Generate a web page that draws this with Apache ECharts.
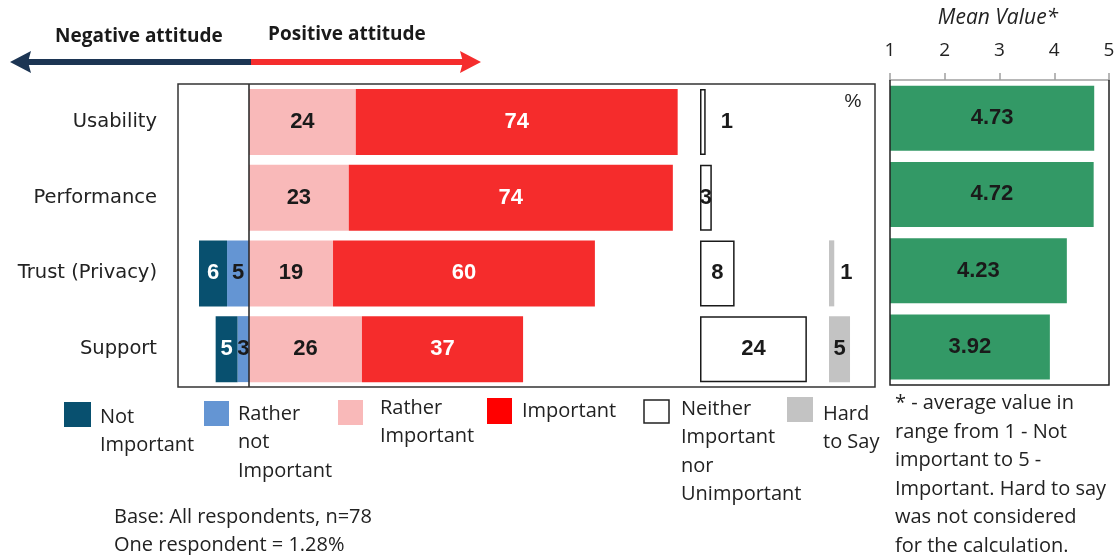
<!DOCTYPE html>
<html><head><meta charset="utf-8">
<script src="https://cdn.jsdelivr.net/npm/echarts@6/dist/echarts.min.js"></script>
<style>html,body{margin:0;padding:0;background:#fff}#c{width:1119px;height:555px}</style>
</head><body><div id="c"></div>
<script>
// ---- data ----
const categories = ['Usability', 'Performance', 'Trust (Privacy)', 'Support'];
const notImportant = [0, 0, 6.4, 5.0];
const ratherNotImportant = [0, 0, 5.0, 2.6];
const ratherImportant = [24.4, 22.8, 19.2, 25.8];
const important = [73.5, 74.0, 59.8, 36.8];
const neither = [1.3, 2.7, 7.9, 24.4];
const hardToSay = [0, 0, 1.2, 4.8];
const meanValues = [4.73, 4.72, 4.23, 3.92];
const meanTicks = [1, 2, 3, 4, 5];

// ---- styles ----
const C = {
  notImp: '#08506f', ratherNot: '#6495d3', ratherImp: '#f9b9b9', imp: '#f52c2c',
  hard: '#c3c3c3', green: '#339966', navy: '#1c3553', red: '#f52d2d'
};
const labelFont = "'Liberation Sans', Arial, sans-serif";
const textFont = "'Open Sans', 'Noto Sans', sans-serif";
const catFont = "'DejaVu Sans', Verdana, sans-serif";
const neitherLabelPos = ['right', 'inside', 'inside', 'inside'];
const neitherLabelDist = [15, 0, 0, 0];
const hardLabelPos = ['inside', 'inside', 'right', 'inside'];
const hardLabelDist = [0, 0, 6, 0];

const rnd = v => { const r = Math.round(Math.abs(v)); return r === 0 ? '' : String(r); };
const barLabel = (color) => ({ show: true, position: 'inside', color: color, fontFamily: labelFont,
  fontWeight: 'bold', fontSize: 22, formatter: p => rnd(p.value) });

const BW = 66;
const chart = echarts.init(document.getElementById('c'));
const option = {
  animation: false,
  grid: [
    { left: 178, top: 84, width: 522, height: 303 },
    { left: 700, top: 84, width: 129, height: 303 },
    { left: 829, top: 84, width: 46, height: 303 },
    { left: 890, top: 80, width: 219, height: 305 }
  ],
  xAxis: [
    { gridIndex: 0, type: 'value', min: -16.2, max: 103, show: false },
    { gridIndex: 1, type: 'value', min: 0, max: 29.45, show: false },
    { gridIndex: 2, type: 'value', min: 0, max: 10.5, show: false },
    { gridIndex: 3, type: 'value', min: 1, max: 5, interval: 1, startValue: 1, position: 'top',
      axisLine: { show: true, lineStyle: { color: '#a0a0a0', width: 1.5 } },
      axisTick: { show: true, inside: false, length: 7, lineStyle: { color: '#a0a0a0', width: 1.5 } },
      axisLabel: { margin: 20, fontFamily: textFont, fontSize: 19, color: '#222',
        formatter: v => meanTicks.indexOf(v) >= 0 ? String(v) : '' },
      splitLine: { show: false } }
  ],
  yAxis: [
    { gridIndex: 0, type: 'category', data: categories, inverse: true,
      axisLine: { show: false }, axisTick: { show: false },
      axisLabel: { margin: 21, fontFamily: catFont, fontSize: 19.5, color: '#222' } },
    { gridIndex: 1, type: 'category', data: categories, inverse: true, show: false },
    { gridIndex: 2, type: 'category', data: categories, inverse: true, show: false },
    { gridIndex: 3, type: 'category', data: categories, inverse: true, show: false }
  ],
  series: [
    { name: 'Rather not Important', type: 'bar', stack: 'a', xAxisIndex: 0, yAxisIndex: 0, barWidth: BW,
      data: ratherNotImportant.map(v => -v), itemStyle: { color: C.ratherNot }, label: barLabel('#1a1a1a') },
    { name: 'Not Important', type: 'bar', stack: 'a', xAxisIndex: 0, yAxisIndex: 0, barWidth: BW,
      data: notImportant.map(v => -v), itemStyle: { color: C.notImp }, label: barLabel('#ffffff') },
    { name: 'Rather Important', type: 'bar', stack: 'a', xAxisIndex: 0, yAxisIndex: 0, barWidth: BW,
      data: ratherImportant, itemStyle: { color: C.ratherImp }, label: barLabel('#1a1a1a'),
      markLine: { silent: true, symbol: 'none', label: { show: false },
        lineStyle: { color: '#222', width: 1.5, type: 'solid' }, data: [{ xAxis: 0 }] } },
    { name: 'Important', type: 'bar', stack: 'a', xAxisIndex: 0, yAxisIndex: 0, barWidth: BW,
      data: important, itemStyle: { color: C.imp }, label: barLabel('#ffffff') },
    { name: 'Neither Important nor Unimportant', type: 'bar', xAxisIndex: 1, yAxisIndex: 1, barWidth: BW,
      data: neither.map((v, i) => ({ value: v, label: { position: neitherLabelPos[i], distance: neitherLabelDist[i] } })),
      itemStyle: { color: '#fff', borderColor: '#1a1a1a', borderWidth: 1.5 }, label: barLabel('#1a1a1a') },
    { name: 'Hard to Say', type: 'bar', xAxisIndex: 2, yAxisIndex: 2, barWidth: BW,
      data: hardToSay.map((v, i) => ({ value: v, label: { position: hardLabelPos[i], distance: hardLabelDist[i] } })),
      itemStyle: { color: C.hard }, label: barLabel('#1a1a1a') },
    { name: 'Mean Value', type: 'bar', xAxisIndex: 3, yAxisIndex: 3, barWidth: 65,
      data: meanValues, itemStyle: { color: C.green },
      label: { show: true, position: 'inside', color: '#1a1a1a', fontFamily: labelFont, fontWeight: 'bold', fontSize: 22,
        formatter: p => p.value.toFixed(2) } }
  ],
  graphic: [
    { type: 'rect', shape: { x: 178, y: 84, width: 697, height: 303 }, silent: true, z: 10,
      style: { fill: 'none', stroke: '#333', lineWidth: 1.5 } },
    { type: 'polyline', shape: { points: [[890, 80], [890, 385], [1109, 385], [1109, 80]] }, silent: true, z: 10,
      style: { fill: 'none', stroke: '#222', lineWidth: 1.5 } },
    { type: 'text', x: 853, y: 102, silent: true, style: { text: '%', fill: '#222', font: '19px ' + labelFont, align: 'center', verticalAlign: 'middle' } },
    { type: 'text', x: 998, y: 18, silent: true, style: { text: 'Mean Value*', fill: '#222', font: 'italic 21px ' + textFont, align: 'center', verticalAlign: 'middle' } },
    { type: 'rect', shape: { x: 26, y: 59, width: 226, height: 6 }, silent: true, style: { fill: C.navy } },
    { type: 'polygon', shape: { points: [[10, 62], [31, 51], [28, 62], [31, 73]] }, silent: true, style: { fill: C.navy } },
    { type: 'rect', shape: { x: 251, y: 59, width: 213, height: 6 }, silent: true, style: { fill: C.red } },
    { type: 'polygon', shape: { points: [[481, 62], [460, 51], [463, 62], [460, 73]] }, silent: true, style: { fill: C.red } },
    { type: 'text', x: 55, y: 37, silent: true, style: { text: 'Negative attitude', fill: '#1a1a1a', font: 'bold 19px ' + textFont, verticalAlign: 'middle' } },
    { type: 'text', x: 268, y: 35, silent: true, style: { text: 'Positive attitude', fill: '#1a1a1a', font: 'bold 19px ' + textFont, verticalAlign: 'middle' } },
    { type: 'rect', shape: { x: 64, y: 402, width: 27, height: 25 }, silent: true, style: { fill: C.notImp } },
    { type: 'text', x: 100, y: 403, silent: true, style: { text: 'Not\nImportant', fill: '#222', font: '20px ' + textFont, lineHeight: 28.5 } },
    { type: 'rect', shape: { x: 204, y: 401, width: 25, height: 25 }, silent: true, style: { fill: C.ratherNot } },
    { type: 'text', x: 238, y: 400, silent: true, style: { text: 'Rather\nnot\nImportant', fill: '#222', font: '20px ' + textFont, lineHeight: 28.5 } },
    { type: 'rect', shape: { x: 338, y: 400, width: 25, height: 25 }, silent: true, style: { fill: C.ratherImp } },
    { type: 'text', x: 380, y: 394, silent: true, style: { text: 'Rather\nImportant', fill: '#222', font: '20px ' + textFont, lineHeight: 28.5 } },
    { type: 'rect', shape: { x: 487, y: 398, width: 25, height: 26 }, silent: true, style: { fill: '#ff0000' } },
    { type: 'text', x: 522, y: 397, silent: true, style: { text: 'Important', fill: '#222', font: '20px ' + textFont, lineHeight: 28.5 } },
    { type: 'rect', shape: { x: 644, y: 400, width: 25, height: 23 }, silent: true, style: { fill: '#fff', stroke: '#222', lineWidth: 1.5 } },
    { type: 'text', x: 681, y: 395, silent: true, style: { text: 'Neither\nImportant\nnor\nUnimportant', fill: '#222', font: '20px ' + textFont, lineHeight: 28.5 } },
    { type: 'rect', shape: { x: 787, y: 397, width: 26, height: 25 }, silent: true, style: { fill: C.hard } },
    { type: 'text', x: 823, y: 400, silent: true, style: { text: 'Hard\nto Say', fill: '#222', font: '20px ' + textFont, lineHeight: 28.5 } },
    { type: 'text', x: 114, y: 503, silent: true, style: { text: 'Base: All respondents, n=78\nOne respondent = 1.28%', fill: '#222', font: '20px ' + textFont, lineHeight: 28.5 } },
    { type: 'text', x: 895, y: 389, silent: true, style: { text: '* - average value in\nrange from 1 - Not\nimportant to 5 -\nImportant. Hard to say\nwas not considered\nfor the calculation.', fill: '#222', font: '20px ' + textFont, lineHeight: 28.6 } }
  ]
};
chart.setOption(option);
</script></body></html>
